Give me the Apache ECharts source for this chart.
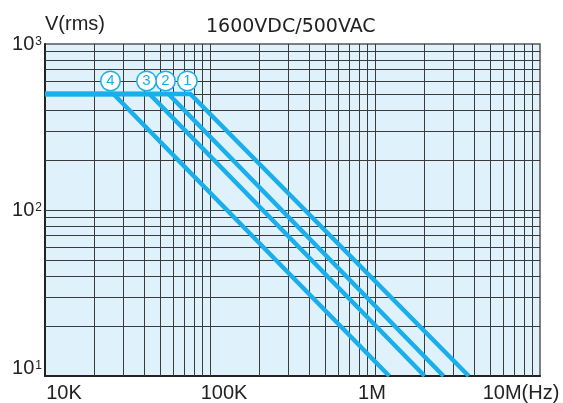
<!DOCTYPE html>
<html>
<head>
<meta charset="utf-8">
<script src="https://cdn.jsdelivr.net/npm/echarts@6/dist/echarts.min.js"></script>
<style>
html,body{margin:0;padding:0;background:#fff;}
#chart{width:563px;height:403px;}
</style>
</head>
<body>
<div id="chart"></div>
<script>
// ---- data ----
const curveNames = ['1', '2', '3', '4'];
const startFreq = [10000, 10000, 10000, 10000];
const kneeFreq = [76000, 56000, 43000, 26000];
const endFreq = [3700000, 2600000, 2000000, 1220000];
const ratedVoltage = [500, 500, 500, 500];
const endVoltage = [10, 10, 10, 10];

const xTickValues = [10000, 100000, 1000000, 10000000];
const xTickLabels = ['10K', '100K', '1M', '10M(Hz)'];
const yTickValues = [10, 100, 1000];
const yTickBase = ['10', '10', '10'];
const yTickExp = ['1', '2', '3'];
const gridMultipliers = [1, 2, 3, 4, 5, 6, 7, 8, 9];
const xGridDecades = [10000, 100000, 1000000];
const yGridDecades = [10, 100];

const titleText = '1600VDC/500VAC';
const yName = 'V(rms)';

// ---- build ----
const lineColor = '#1aaeea';
const gridColor = '#3a3a3a';
const textColor = '#222';
const font = 'Liberation Sans, Arial, sans-serif';

const xGrid = [];
xGridDecades.forEach(d => gridMultipliers.forEach(m => { if (d * m > 10000) xGrid.push({xAxis: d * m}); }));
const yGrid = [];
yGridDecades.forEach(d => gridMultipliers.forEach(m => { if (d * m > 10) yGrid.push({yAxis: d * m}); }));

const xLabelPad = [[0,0,0,38],[0,0,0,28],[0,6,0,0],[0,38,0,0]];
const xRich = {};
xTickLabels.forEach((t, i) => {
  xRich['t' + i] = {fontSize: 20, fontFamily: font, color: textColor, padding: xLabelPad[i]};
});

const series = [{
  type: 'line',
  data: [[10000, 10]],
  symbol: 'none',
  lineStyle: {width: 0},
  z: 1,
  silent: true,
  markLine: {
    silent: true,
    symbol: ['none', 'none'],
    label: {show: false},
    emphasis: {disabled: true},
    lineStyle: {type: 'solid', color: gridColor, width: 1},
    data: xGrid.concat(yGrid),
    animation: false
  }
}];

curveNames.forEach((n, i) => {
  series.push({
    type: 'line',
    name: n,
    z: 5,
    showSymbol: true,
    symbol: 'circle',
    symbolSize: 0,
    lineStyle: {color: lineColor, width: 4.5, cap: 'butt', join: 'miter'},
    itemStyle: {color: lineColor},
    label: {show: false},
    emphasis: {disabled: true},
    data: [
      [startFreq[i], ratedVoltage[i]],
      {value: [kneeFreq[i], ratedVoltage[i]], label: {
        show: true, position: 'top', distance: 4, offset: [-3, 0],
        formatter: '{c|' + n + '}',
        rich: {c: {
          fontSize: 15, fontFamily: font, color: lineColor,
          width: 18, height: 18, lineHeight: 18, align: 'center',
          borderRadius: 9, borderColor: lineColor, borderWidth: 1.5,
          backgroundColor: '#fff'
        }}
      }},
      [endFreq[i], endVoltage[i]]
    ]
  });
});

const chart = echarts.init(document.getElementById('chart'), null, {renderer: 'canvas'});
chart.setOption({
  animation: false,
  backgroundColor: '#fff',
  title: {
    text: titleText,
    left: 206, top: 18, padding: 0,
    textStyle: {fontFamily: 'DejaVu Sans, sans-serif', fontSize: 19, fontWeight: 'normal', color: textColor}
  },
  grid: {
    left: 45, right: 23, top: 44, bottom: 23,
    show: true, backgroundColor: '#dff1fb', borderColor: '#555', borderWidth: 1.5
  },
  xAxis: {
    type: 'log', logBase: 10, min: 10000, max: 10000000,
    axisLine: {show: true, lineStyle: {color: '#222', width: 2}},
    axisTick: {show: false},
    splitLine: {show: false},
    axisLabel: {
      margin: 7,
      formatter: v => {
        const i = xTickValues.findIndex(t => Math.abs(Math.log10(t) - Math.log10(v)) < 1e-6);
        return i < 0 ? '' : '{t' + i + '|' + xTickLabels[i] + '}';
      },
      rich: xRich
    }
  },
  yAxis: {
    type: 'log', logBase: 10, min: 10, max: 1000,
    name: yName, nameLocation: 'end', nameGap: 10,
    nameTextStyle: {fontFamily: font, fontSize: 20, color: textColor, align: 'left', verticalAlign: 'bottom'},
    axisLine: {show: true, lineStyle: {color: '#222', width: 2}},
    axisTick: {show: false},
    splitLine: {show: false},
    axisLabel: {
      margin: 3,
      verticalAlignMinLabel: 'bottom',
      formatter: v => {
        const i = yTickValues.findIndex(t => Math.abs(Math.log10(t) - Math.log10(v)) < 1e-6);
        return i < 0 ? '' : '{b|' + yTickBase[i] + '}{s|' + yTickExp[i] + '}';
      },
      rich: {
        b: {fontFamily: font, fontSize: 20, color: textColor, lineHeight: 16},
        s: {fontFamily: font, fontSize: 12, color: textColor, verticalAlign: 'top', lineHeight: 16, padding: [0, 0, 8, 1]}
      }
    }
  },
  series: series
});
</script>
</body>
</html>
